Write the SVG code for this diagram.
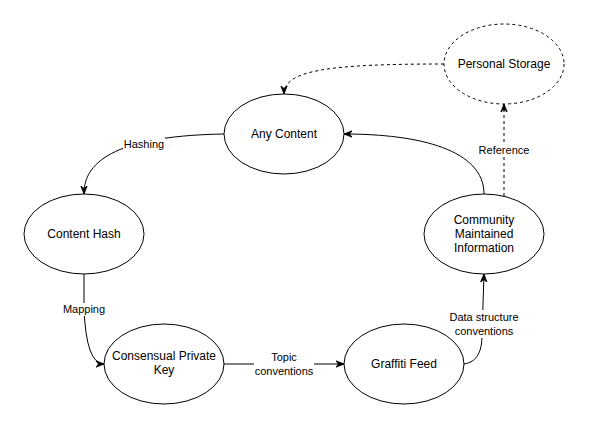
<svg xmlns="http://www.w3.org/2000/svg" width="589" height="429" viewBox="0 0 589 429">
<style>
.node ellipse{fill:#fff;stroke:#000;stroke-width:1}
.dashed ellipse{stroke-dasharray:3 3}
.nt{font-family:"Liberation Sans",Arial,sans-serif;font-size:12px;fill:#000;text-anchor:middle;dominant-baseline:central}
.et{font-family:"Liberation Sans",Arial,sans-serif;font-size:11px;fill:#000;text-anchor:middle;dominant-baseline:central}
.edge{fill:none;stroke:#000;stroke-width:1}
.dash{stroke-dasharray:3 3}
.lbg{fill:#fff}
</style>
<defs>
<marker id="arr" viewBox="0 0 10 10" refX="10" refY="5" markerWidth="8" markerHeight="8" markerUnits="userSpaceOnUse" orient="auto">
<path d="M0,1 L10,5 L0,9 L3,5 z" fill="#000" stroke="#000" stroke-width="1" stroke-dasharray="none"/>
</marker>
</defs>
<rect width="589" height="429" fill="#fff"/>
<g id="connectors">
<path class="edge" d="M224,134 C100,136 84,170 84,194" marker-end="url(#arr)"/>
<path class="edge" d="M84,274 L84,308 Q86,364 104,364" marker-end="url(#arr)"/>
<path class="edge" d="M224,364 L344,364" marker-end="url(#arr)"/>
<path class="edge" d="M464,364 C478,362 482,350 482,335 L484,274" marker-end="url(#arr)"/>
<path class="edge" d="M484,194 C484,150 420,134 344,134" marker-end="url(#arr)"/>
<path class="edge dash" d="M504,196 L504,104" marker-end="url(#arr)"/>
<path class="edge dash" d="M444,64 C330,64 284,70 284,94" marker-end="url(#arr)"/>
<rect class="lbg" x="123" y="138" width="42" height="13"/>
<text class="et" x="144" y="144">Hashing</text>
<rect class="lbg" x="63" y="303" width="42" height="13"/>
<text class="et" x="84" y="309">Mapping</text>
<rect class="lbg" x="254" y="350" width="60" height="28"/>
<text class="et" x="284" y="357">Topic</text>
<text class="et" x="284" y="371">conventions</text>
<rect class="lbg" x="446" y="310" width="76" height="28"/>
<text class="et" x="484" y="317">Data structure</text>
<text class="et" x="484" y="331">conventions</text>
<rect class="lbg" x="478" y="144" width="52" height="13"/>
<text class="et" x="504" y="150">Reference</text>
</g>
<g id="any-content" class="node">
<ellipse cx="284" cy="134" rx="60" ry="40"/>
<text class="nt" x="284" y="134">Any Content</text>
</g>
<g id="personal-storage" class="node dashed">
<ellipse cx="504" cy="64" rx="60" ry="40"/>
<text class="nt" x="504" y="64">Personal Storage</text>
</g>
<g id="content-hash" class="node">
<ellipse cx="84" cy="234" rx="60" ry="40"/>
<text class="nt" x="84" y="234">Content Hash</text>
</g>
<g id="consensual-private-key" class="node">
<ellipse cx="164" cy="364" rx="60" ry="40"/>
<text class="nt" x="164" y="356">Consensual Private</text>
<text class="nt" x="164" y="370">Key</text>
</g>
<g id="graffiti-feed" class="node">
<ellipse cx="404" cy="364" rx="60" ry="40"/>
<text class="nt" x="404" y="364">Graffiti Feed</text>
</g>
<g id="community-maintained-information" class="node">
<ellipse cx="484" cy="234" rx="60" ry="40"/>
<text class="nt" x="484" y="220">Community</text>
<text class="nt" x="484" y="234">Maintained</text>
<text class="nt" x="484" y="248">Information</text>
</g>
</svg>
